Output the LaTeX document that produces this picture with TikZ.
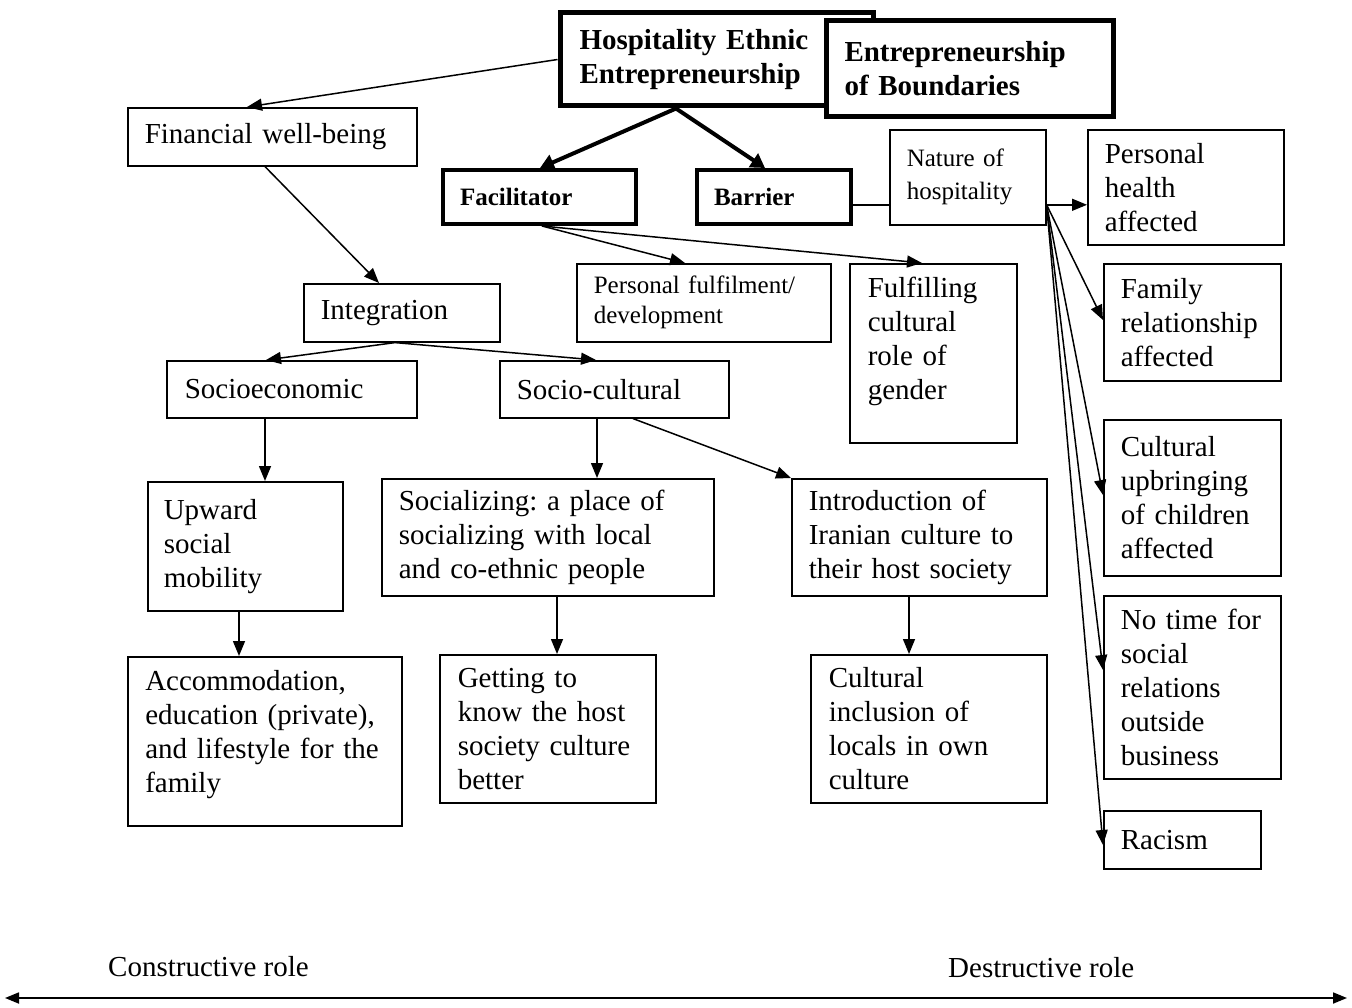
\documentclass[tikz,border=0pt]{standalone}
\usepackage{fontspec}
\setmainfont{Liberation Serif}
\usetikzlibrary{arrows.meta}
\frenchspacing
\begin{document}
\begin{tikzpicture}[x=1pt,y=-1pt,
  box/.style={draw, line width=1.6pt, fill=white, align=left, anchor=north west,
    inner xsep=17pt, inner ysep=0pt, font=\fontsize{29}{34}\selectfont},
  heavybox/.style={box, line width=5pt, font=\fontsize{29}{34}\selectfont\bfseries},
  midbox/.style={box, line width=4pt, font=\fontsize{25}{30}\selectfont\bfseries},
  conn/.style={line width=1.5pt, -{Triangle[length=15pt,width=12pt]}},
  heavyconn/.style={line width=4pt, -{Triangle[length=14pt,width=16pt]}},
  lbl/.style={anchor=west, inner sep=0pt, font=\fontsize{29}{34}\selectfont}]
\useasboundingbox (0,0) rectangle (1352,1008);

% top headings
\node[heavybox, inner xsep=19.5pt, text width=274pt, minimum height=93pt] (hee) at (557.5,10.5)
  {Hospitality Ethnic\\Entrepreneurship};
\node[heavybox, inner xsep=18.5pt, text width=250pt, minimum height=96pt] (eob) at (823.5,18.5)
  {Entrepreneurship\\of Boundaries};

% second level
\node[box, text width=255pt, minimum height=58pt] (fin) at (127,107) {Financial well-being};
\node[midbox, text width=158.5pt, minimum height=54pt] (fac) at (441,168) {Facilitator};
\node[midbox, text width=119.5pt, minimum height=54pt] (bar) at (695,168) {Barrier};
\node[box, font=\fontsize{25}{33}\selectfont, text width=122pt, minimum height=95pt] (nat) at (889,129)
  {Nature of\\hospitality};

% facilitator branch
\node[box, font=\fontsize{25}{30}\selectfont, text width=220pt, minimum height=78pt] (pf) at (576,263)
  {Personal fulfilment/\\development};
\node[box, inner xsep=18pt, text width=131pt, minimum height=179pt] (ful) at (849,263)
  {Fulfilling\\cultural\\role of\\gender\\[-4pt]\mbox{}};

% barrier consequences
\node[box, text width=162pt, minimum height=115pt] (ph) at (1087,129) {Personal\\health\\affected};
\node[box, text width=143pt, minimum height=117pt] (fam) at (1103,263) {Family\\relationship\\affected};
\node[box, text width=143pt, minimum height=156pt] (cub) at (1103,419)
  {Cultural\\upbringing\\of children\\affected};
\node[box, text width=143pt, minimum height=183pt] (nt) at (1103,595)
  {No time for\\social\\relations\\outside\\business};
\node[box, text width=123pt, minimum height=58pt] (rac) at (1103,810) {Racism};

% integration branch
\node[box, text width=162pt, minimum height=58pt] (integ) at (303,283) {Integration};
\node[box, inner xsep=18pt, text width=214pt, minimum height=57pt] (soce) at (166,360) {Socioeconomic};
\node[box, text width=195pt, minimum height=57pt] (socc) at (499,360) {Socio-cultural};
\node[box, inner xsep=16pt, text width=163pt, minimum height=129pt] (up) at (147,481)
  {Upward\\social\\mobility};
\node[box, text width=298pt, minimum height=117pt] (soz) at (381,478)
  {Socializing: a place of\\socializing with local\\and co-ethnic people};
\node[box, text width=221pt, minimum height=117pt] (intro) at (791,478)
  {Introduction of\\Iranian culture to\\their host society};
\node[box, inner xsep=17.5pt, text width=239pt, minimum height=169pt] (acc) at (127,656)
  {Accommodation,\\education (private),\\and lifestyle for the\\family\\[-14pt]\mbox{}};
\node[box, inner xsep=18pt, text width=180pt, minimum height=148pt] (get) at (439,654)
  {Getting to\\know the host\\society culture\\better};
\node[box, inner xsep=18pt, text width=200pt, minimum height=148pt] (cin) at (810,654)
  {Cultural\\inclusion of\\locals in own\\culture};

% connectors from the heading
\draw[conn] (hee.west) -- ([xshift=120pt]fin.north west);
\coordinate (heeout) at ([xshift=118.5pt]hee.south west);
\draw[heavyconn] (heeout) -- ([xshift=99pt]fac.north west);
\draw[heavyconn] (heeout) -- ([xshift=70pt]bar.north west);

% facilitator outcomes
\coordinate (facout) at ([xshift=101pt]fac.south west);
\draw[conn] (facout) -- ([xshift=109pt]pf.north west);
\draw[conn] (facout) -- ([xshift=73pt]ful.north west);

% barrier and its consequences
\coordinate (barout) at ([yshift=-8pt]bar.east);
\draw[line width=1.5pt] (barout) -- (barout -| nat.west);
\coordinate (natout) at ([yshift=-27.5pt]nat.east);
\draw[conn] (natout) -- (natout -| ph.west);
\draw[conn] (natout) -- ([yshift=-57pt]fam.north west);
\draw[conn] (natout) -- ([yshift=-76pt]cub.north west);
\draw[conn] (natout) -- ([yshift=-75pt]nt.north west);
\draw[conn] (natout) -- ([yshift=-35pt]rac.north west);

% integration tree
\draw[conn] ([xshift=138pt]fin.south west) -- ([xshift=76pt]integ.north west);
\coordinate (intout) at ([xshift=92pt]integ.south west);
\draw[conn] (intout) -- ([xshift=100pt]soce.north west);
\draw[conn] (intout) -- ([xshift=97pt]socc.north west);
\draw[conn] ([xshift=99pt]soce.south west) -- ([xshift=118pt]up.north west);
\draw[conn] ([xshift=98pt]socc.south west) -- ([xshift=216pt]soz.north west);
\draw[conn] ([xshift=134pt]socc.south west) -- (intro.north west);
\draw[conn] ([xshift=92pt]up.south west) -- ([xshift=112pt]acc.north west);
\draw[conn] ([xshift=176pt]soz.south west) -- ([xshift=118pt]get.north west);
\draw[conn] ([xshift=118pt]intro.south west) -- ([xshift=99pt]cin.north west);

% role axis
\node[lbl] (con) at (108,967) {Constructive role};
\node[lbl] (des) at (948,968) {Destructive role};
\coordinate (axl) at (5,998);
\coordinate (axr) at (1347,998);
\draw[line width=1.8pt, {Triangle[length=14pt,width=11pt]}-{Triangle[length=14pt,width=11pt]}] (axl) -- (axr);
\end{tikzpicture}
\end{document}
